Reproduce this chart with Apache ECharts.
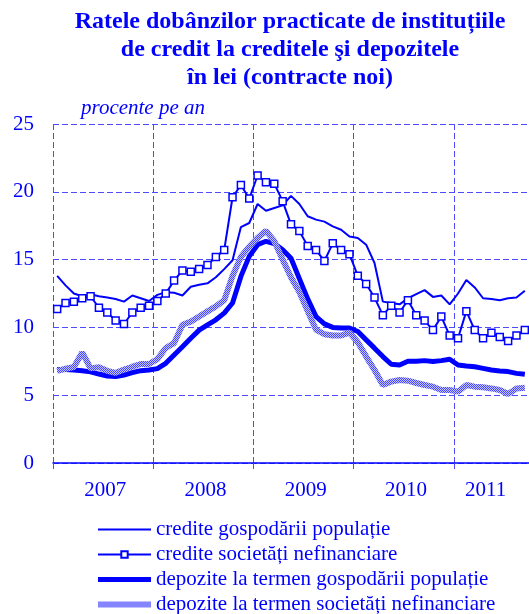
<!DOCTYPE html>
<html><head><meta charset="utf-8">
<script src="https://cdn.jsdelivr.net/npm/echarts@6/dist/echarts.min.js"></script>
<style>html,body{margin:0;padding:0;background:#fff}#c{width:529px;height:614px}</style>
</head><body><div id="c"></div>
<script>
// Monthly categories Jan 2007 .. Sep 2011
const years = ['2007','2008','2009','2010','2011'];
const categories = [];
years.forEach(y => { for (let m = 1; m <= 12; m++) { if (y === '2011' && m > 9) break; categories.push(y + '-' + (m < 10 ? '0' + m : m)); } });
const yTicks = [0, 5, 10, 15, 20, 25];
// label index per year (category where the year label is shown)
const yearLabelIndex = {6: '2007', 18: '2008', 30: '2009', 42: '2010', 51: '2011'};

const crediteGosp = [13.8,13.1,12.5,12.3,12.45,12.3,12.2,12.1,11.9,12.35,12.15,11.95,
  12.4,12.6,12.55,12.35,13.0,13.15,13.25,13.7,14.3,14.95,17.4,17.7,
  19.1,18.6,18.8,19.0,19.7,19.1,18.2,17.95,17.8,17.45,17.2,16.7,
  16.6,16.1,14.75,11.9,11.8,11.7,12.15,12.45,12.75,12.25,12.35,11.7,
  12.5,13.5,12.95,12.15,12.1,12.0,12.15,12.2,12.7];
const crediteSoc = [11.35,11.8,11.9,12.15,12.3,11.45,11.1,10.5,10.25,11.1,11.45,11.6,
  11.95,12.5,13.45,14.2,14.1,14.3,14.6,15.2,15.7,19.6,20.5,19.5,
  21.2,20.7,20.6,19.3,17.6,17.1,16.0,15.7,14.9,16.2,15.7,15.4,
  13.8,13.2,12.2,10.9,11.6,11.1,12.0,10.9,10.5,9.8,10.8,9.4,
  9.2,11.2,9.8,9.2,9.6,9.3,9.0,9.4,9.8];
const depoziteGosp = [6.9,6.9,6.85,6.8,6.72,6.56,6.42,6.37,6.49,6.66,6.81,6.86,
  6.96,7.35,7.97,8.58,9.2,9.8,10.19,10.56,11.05,11.8,13.76,15.24,
  16.1,16.35,16.18,15.73,15.1,13.6,12.1,10.8,10.26,10.0,9.95,9.95,
  9.7,9.08,8.47,7.85,7.28,7.23,7.5,7.5,7.55,7.48,7.55,7.65,
  7.23,7.16,7.1,6.98,6.86,6.79,6.74,6.61,6.54];
const depoziteSoc = [6.8,6.95,7.08,8.15,6.98,7.07,6.8,6.65,6.89,7.1,7.3,7.3,
  7.66,8.48,8.84,10.2,10.43,10.8,11.18,11.55,12.0,13.8,15.2,15.95,
  16.6,17.12,16.36,15.0,13.7,12.6,11.2,9.82,9.5,9.4,9.4,9.62,
  8.9,7.85,6.86,5.75,6.0,6.12,6.07,5.9,5.75,5.63,5.38,5.38,
  5.26,5.75,5.63,5.58,5.5,5.38,5.09,5.5,5.55];

const names = ['credite gospodării populație','credite societăți nefinanciare',
  'depozite la termen gospodării populație','depozite la termen societăți nefinanciare'];

const BLUE = '#0000ff';
const GRID = '#4d4dff';
const FONT = "'Liberation Serif', 'Times New Roman', serif";

// hatched pattern for the last series
const pc = document.createElement('canvas');
pc.width = 2; pc.height = 2;
const pctx = pc.getContext('2d');
pctx.fillStyle = '#c4c4ff'; pctx.fillRect(0,0,2,2);
pctx.fillStyle = '#4646ff'; pctx.fillRect(0,0,1,1); pctx.fillRect(1,1,1,1);
const hatch = {image: pc, repeat: 'repeat'};

const chart = echarts.init(document.getElementById('c'), null, {renderer: 'canvas'});
chart.setOption({
  animation: false,
  backgroundColor: '#fff',
  title: {
    text: 'Ratele dobânzilor practicate de instituțiile\nde credit la creditele şi depozitele\nîn lei (contracte noi)',
    left: 290, top: 8, textAlign: 'center', padding: 0,
    textStyle: {fontFamily: FONT, fontWeight: 'bold', fontSize: 24, lineHeight: 28, color: BLUE}
  },
  graphic: [{
    type: 'text', left: 81, top: 98,
    style: {text: 'procente pe an', fontFamily: FONT, fontStyle: 'italic', fontSize: 21, fill: BLUE}
  }],
  grid: {left: 53, right: 0, top: 124, bottom: 151, containLabel: false},
  legend: {
    orient: 'vertical', left: 95, top: 519, height: 120, padding: 0,
    itemWidth: 53, itemHeight: 8, itemGap: 4,
    textStyle: {fontFamily: FONT, fontSize: 21, color: BLUE},
    data: [
      {name: names[0], itemStyle: {opacity: 0}, lineStyle: {width: 2}},
      {name: names[1], lineStyle: {width: 2}},
      {name: names[2], itemStyle: {opacity: 0}, lineStyle: {width: 5}},
      {name: names[3], itemStyle: {opacity: 0}, lineStyle: {width: 6}}
    ]
  },
  xAxis: {
    type: 'category', data: categories, boundaryGap: true,
    axisLine: {show: true, lineStyle: {color: BLUE, width: 1.5}},
    axisTick: {show: true, length: 8, interval: (i) => i % 12 === 0, lineStyle: {color: GRID, type: [6,3]}},
    splitLine: {show: true, interval: (i) => i % 12 === 0, lineStyle: {color: GRID, type: [6,3], width: 1}},
    axisLabel: {
      interval: (i) => yearLabelIndex[i] !== undefined,
      formatter: (v, i) => {
        const y = yearLabelIndex[i];
        if (!y) return '';
        return y === '2011' ? '{b|' + y + '}' : '{a|' + y + '}';
      },
      margin: 17,
      rich: {
        a: {fontFamily: FONT, fontSize: 21, color: BLUE, padding: [0,4,0,0]},
        b: {fontFamily: FONT, fontSize: 21, color: BLUE, padding: [0,0,0,5]}
      }
    }
  },
  yAxis: {
    type: 'value', min: yTicks[0], max: yTicks[yTicks.length-1], interval: 5,
    axisLine: {show: false}, axisTick: {show: false},
    axisLabel: {fontFamily: FONT, fontSize: 21, color: BLUE, margin: 19},
    splitLine: {show: true, lineStyle: {color: GRID, type: [6,3], width: 1}}
  },
  series: [
    {name: names[0], type: 'line', data: crediteGosp, symbol: 'none',
     lineStyle: {color: BLUE, width: 2}, itemStyle: {color: BLUE}},
    {name: names[1], type: 'line', data: crediteSoc, symbol: 'rect', symbolSize: 7, showAllSymbol: true,
     lineStyle: {color: BLUE, width: 2}, itemStyle: {color: '#fff', borderColor: BLUE, borderWidth: 1.5}},
    {name: names[2], type: 'line', data: depoziteGosp, symbol: 'none',
     lineStyle: {color: BLUE, width: 5}, itemStyle: {color: BLUE}},
    {name: names[3], type: 'line', data: depoziteSoc, symbol: 'none',
     lineStyle: {color: hatch, width: 6}, itemStyle: {color: '#8080ff'}}
  ]
});
</script></body></html>
